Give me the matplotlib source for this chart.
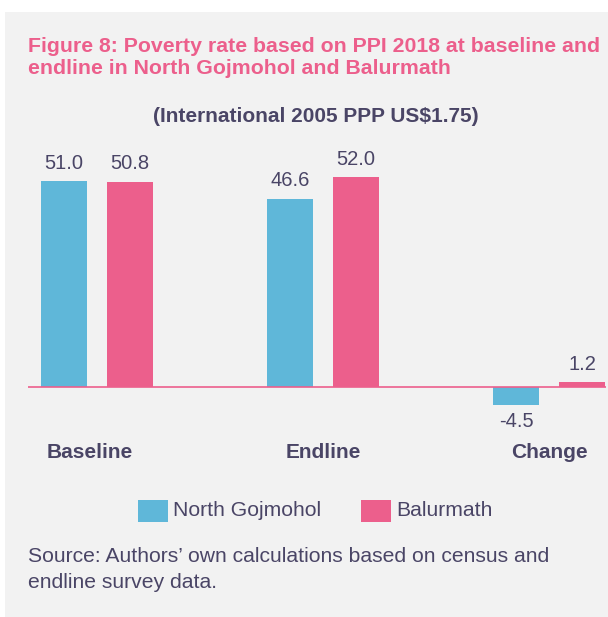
import numpy as np
import matplotlib.pyplot as plt
from matplotlib.patches import Rectangle

categories = ['Baseline', 'Endline', 'Change']
north_gojmohol = [51.0, 46.6, -4.5]
balurmath = [50.8, 52.0, 1.2]
series_names = ['North Gojmohol', 'Balurmath']

blue = '#5fb7d9'
pink = '#ec5f8c'
ink = '#4a4566'
panel = '#f2f2f2'

plt.rcParams['font.family'] = ['Liberation Sans', 'DejaVu Sans']

W, H = 608, 617
fig = plt.figure(figsize=(W / 100, H / 100), dpi=100)
fig.patch.set_facecolor('white')


def fx(px):
    return px / W


def fy(py):
    return 1 - py / H


# grey card behind everything
fig.patches.append(Rectangle((fx(5), 0), 1 - fx(5), fy(12), transform=fig.transFigure,
                             facecolor=panel, edgecolor='none', zorder=-5))

fig.text(fx(28), fy(47), 'Figure 8: Poverty rate based on PPI 2018 at baseline and',
         color=pink, fontsize=15.3, fontweight='bold', va='center', ha='left')
fig.text(fx(28), fy(69), 'endline in North Gojmohol and Balurmath',
         color=pink, fontsize=15.3, fontweight='bold', va='center', ha='left')
fig.text(fx(316), fy(116), '(International 2005 PPP US$1.75)',
         color=ink, fontsize=15, fontweight='bold', va='center', ha='center')

# axes in pixel terms: 0 sits at y=387, ~4.04 px per unit
ax_top, ax_bot, ax_left, ax_right = 140, 470, 28, 606
ax = fig.add_axes([fx(ax_left), fy(ax_bot), fx(ax_right - ax_left), (ax_bot - ax_top) / H])
ax.set_facecolor('none')
ax.set_zorder(2)
ppu = 4.04
ax.set_ylim(-(ax_bot - 387) / ppu, (387 - ax_top) / ppu)
spacing = 226
ax.set_xlim((ax_left - 97) / spacing, (ax_right - 97) / spacing)

x = np.arange(len(categories))
off = 33 / spacing
bw = 46 / spacing
ax.bar(x - off, north_gojmohol, bw, color=blue, zorder=2)
ax.bar(x + off, balurmath, bw, color=pink, zorder=2)
ax.axhline(0, color=pink, lw=1.2, zorder=3)

for xs, vals in ((x - off, north_gojmohol), (x + off, balurmath)):
    for xi, v in zip(xs, vals):
        if v >= 0:
            ax.annotate(f'{v:.1f}', (xi, v), xytext=(0, 6), textcoords='offset points',
                        ha='center', va='bottom', color=ink, fontsize=14.5)
        else:
            ax.annotate(f'{v:.1f}', (xi, v), xytext=(0, -5), textcoords='offset points',
                        ha='center', va='top', color=ink, fontsize=14.5)

# category names sit under each pair, the first one nudged left
label_shift = [-7 / spacing, 0, 0]
for xi, c, dx in zip(x, categories, label_shift):
    ax.text(xi + dx, -(452 - 387) / ppu, c, ha='center', va='center',
            color=ink, fontsize=15, fontweight='bold')

ax.axis('off')

# legend drawn by hand in figure space
for sx, col, name in ((138, blue, series_names[0]), (361, pink, series_names[1])):
    fig.patches.append(Rectangle((fx(sx), fy(522)), fx(30), 22 / H, transform=fig.transFigure,
                                 facecolor=col, edgecolor='none'))
    fig.text(fx(sx + 35), fy(511), name, color=ink, fontsize=15.2, va='center', ha='left')

fig.text(fx(28), fy(556), 'Source: Authors\u2019 own calculations based on census and',
         color=ink, fontsize=15.2, va='center', ha='left')
fig.text(fx(28), fy(583), 'endline survey data.',
         color=ink, fontsize=15.2, va='center', ha='left')

fig.savefig('out.png', dpi=100, facecolor=fig.get_facecolor())
